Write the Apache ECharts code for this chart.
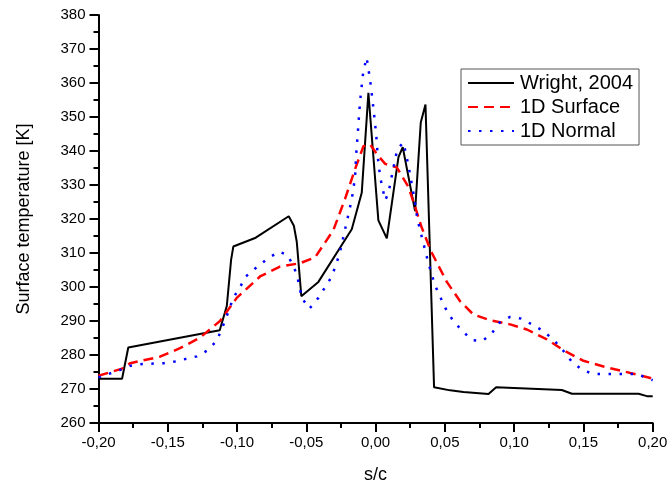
<!DOCTYPE html>
<html><head><meta charset="utf-8">
<script src="https://cdn.jsdelivr.net/npm/echarts@6/dist/echarts.min.js"></script>
<style>html,body{margin:0;padding:0;background:#fff}#c{width:672px;height:489px}</style>
</head><body><div id="c"></div>
<script>
const wrightX = [-0.200,-0.183,-0.1785,-0.1125,-0.1074,-0.1043,-0.1027,-0.0865,-0.0627,-0.059,-0.0569,-0.0536,-0.0413,-0.0172,-0.0100,-0.0052,0.0020,0.0081,0.0165,0.0196,0.0285,0.0326,0.0360,0.0422,0.0538,0.0634,0.0815,0.0870,0.1344,0.1417,0.1898,0.1958,0.2000];
const wrightY = [273.0,273.0,282.2,287.3,294.4,308.0,311.9,314.5,320.8,318.0,313.3,297.3,301.5,317.0,327.7,357.1,319.6,314.3,338.2,341.1,322.3,348.4,353.7,270.5,269.6,269.1,268.5,270.5,269.7,268.6,268.6,267.9,267.9];
const surfX = [-0.200,-0.183,-0.177,-0.1556,-0.1412,-0.1267,-0.1123,-0.1002,-0.0834,-0.069,-0.0545,-0.0437,-0.0305,-0.022,-0.0148,-0.0088,-0.0040,0.0009,0.0069,0.0153,0.0237,0.0285,0.0330,0.0400,0.0514,0.0610,0.0706,0.0827,0.0971,0.1092,0.1236,0.1356,0.1500,0.1645,0.1789,0.1970,0.2000];
const surfY = [273.9,276.0,277.6,279.5,282.0,285.1,290.0,296.8,303.1,306.0,307.0,308.7,316.7,326.0,334.7,341.4,342.0,339.1,336.2,335.2,329.4,323.6,317.8,310.5,301.5,295.8,291.9,290.2,289.0,287.5,284.6,281.4,278.3,276.6,275.2,273.4,273.0];
const normX = [-0.200,-0.1845,-0.177,-0.170,-0.153,-0.1448,-0.129,-0.1219,-0.1147,-0.1087,-0.1027,-0.0978,-0.0937,-0.0858,-0.0774,-0.0697,-0.0637,-0.0593,-0.0565,-0.0533,-0.0478,-0.0413,-0.0316,-0.0261,-0.0208,-0.0172,-0.0148,-0.0141,-0.0129,-0.0112,-0.0090,-0.0065,-0.0040,-0.0020,0.0004,0.0016,0.0033,0.0069,0.0093,0.0129,0.0157,0.0201,0.0237,0.0280,0.0302,0.0341,0.0381,0.0430,0.0502,0.0550,0.0615,0.0695,0.0771,0.0839,0.0894,0.0971,0.1051,0.1132,0.1212,0.1289,0.1356,0.1417,0.1493,0.1573,0.1890,0.1973,0.2000];
const normY = [273.4,275.6,276.8,277.3,277.6,278.1,279.6,281.2,284.1,290.0,296.8,300.0,303.1,305.8,308.5,310.4,309.4,306.2,303.1,296.8,293.6,296.8,303.1,309.6,319.2,325.8,332.3,338.6,345.0,354.7,363.0,367.5,361.0,354.2,345.0,338.2,332.3,325.5,327.7,335.2,340.6,342.5,335.7,326.0,319.9,313.5,307.0,300.4,293.9,290.7,287.5,284.4,284.1,286.4,289.5,291.2,290.7,288.9,287.0,284.3,281.2,278.0,275.6,274.4,274.4,272.9,272.6];
const seriesNames = ['Wright, 2004','1D Surface','1D Normal'];
const xAxisTitle = 's/c';
const yAxisTitle = 'Surface temperature [K]';

const zip = (a, b) => a.map((v, i) => [v, b[i]]);
const FONT = 'Arial, "Liberation Sans", sans-serif';
const chart = echarts.init(document.getElementById('c'), null, {renderer: 'canvas'});
chart.setOption({
  animation: false,
  backgroundColor: '#fff',
  grid: {left: 98.5, right: 19.3, top: 15, bottom: 63, containLabel: false},
  legend: {
    orient: 'vertical', left: 461, top: 69,
    padding: [4, 6, 4, 6], itemWidth: 46, itemHeight: 20, itemGap: 4,
    borderColor: '#555', borderWidth: 1,
    itemStyle: {opacity: 0, color: 'transparent', borderWidth: 0},
    textStyle: {fontFamily: FONT, fontSize: 20, color: '#000', padding: [0, 0, 0, 1]},
    data: seriesNames
  },
  xAxis: {
    type: 'value', min: -0.2, max: 0.2, interval: 0.05,
    name: xAxisTitle, nameLocation: 'middle', nameGap: 43,
    nameTextStyle: {fontFamily: FONT, fontSize: 18, color: '#000'},
    axisLine: {onZero: false, lineStyle: {color: '#000', width: 2}},
    axisTick: {show: true, inside: false, length: 9, lineStyle: {color: '#000', width: 2}},
    minorTick: {show: true, splitNumber: 2, length: 5, lineStyle: {color: '#000', width: 2}},
    axisLabel: {fontFamily: FONT, fontSize: 15, color: '#000', margin: 12,
      formatter: v => v.toFixed(2).replace('.', ',')},
    splitLine: {show: false}, minorSplitLine: {show: false}
  },
  yAxis: {
    type: 'value', min: 260, max: 380, interval: 10,
    name: yAxisTitle, nameLocation: 'middle', nameGap: 65, nameRotate: 90,
    nameTextStyle: {fontFamily: FONT, fontSize: 18, color: '#000'},
    axisLine: {show: true, onZero: false, lineStyle: {color: '#000', width: 2}},
    axisTick: {show: true, inside: false, length: 9, lineStyle: {color: '#000', width: 2}},
    minorTick: {show: true, splitNumber: 2, length: 5, lineStyle: {color: '#000', width: 2}},
    axisLabel: {fontFamily: FONT, fontSize: 15, color: '#000', margin: 13},
    splitLine: {show: false}, minorSplitLine: {show: false}
  },
  series: [
    {name: seriesNames[0], type: 'line', symbol: 'none', data: zip(wrightX, wrightY),
      color: '#000', lineStyle: {color: '#000', width: 2}},
    {name: seriesNames[1], type: 'line', symbol: 'none', data: zip(surfX, surfY),
      color: '#ff0000', lineStyle: {color: '#ff0000', width: 2.5, type: [10, 6]}},
    {name: seriesNames[2], type: 'line', symbol: 'none', data: zip(normX, normY),
      color: '#0000ff', lineStyle: {color: '#0000ff', width: 2.5, type: [2.5, 8.5]}}
  ]
});
</script></body></html>
